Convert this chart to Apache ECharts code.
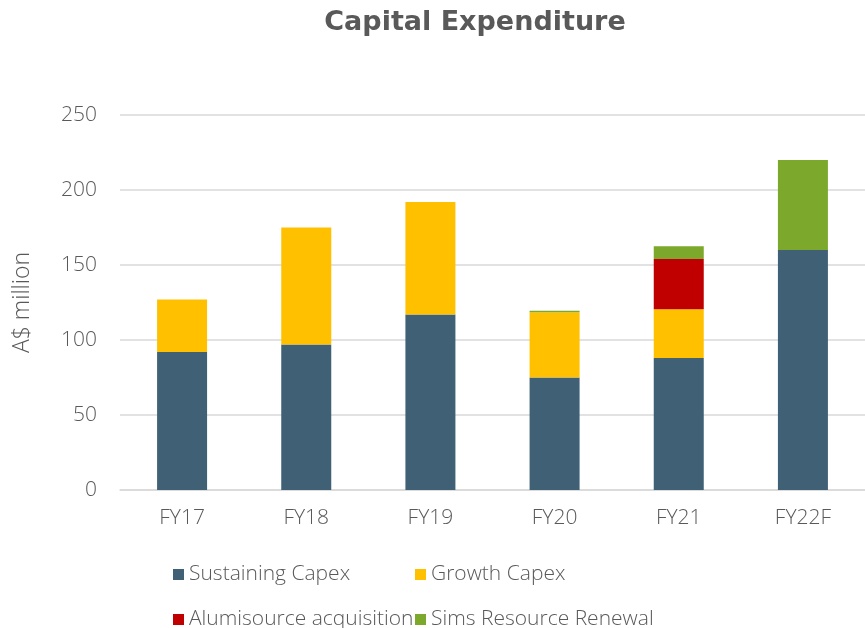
<!DOCTYPE html>
<html><head><meta charset="utf-8">
<script src="https://cdn.jsdelivr.net/npm/echarts@6/dist/echarts.min.js"></script>
<style>html,body{margin:0;padding:0;background:#fff}#c{width:865px;height:628px}</style>
</head><body><div id="c"></div>
<script>
const categories = ['FY17','FY18','FY19','FY20','FY21','FY22F'];
const sustaining = [92, 97, 117, 75, 88, 160];
const growth = [35, 78, 75, 43.5, 32.5, 0];
const alumisource = [0, 0, 0, 0, 33.5, 0];
const sims = [0, 0, 0, 1, 8.5, 60];
const seriesNames = ['Sustaining Capex','Growth Capex','Alumisource acquisition','Sims Resource Renewal'];
const colors = ['#3F6075','#FFC000','#C00000','#7CA82B'];
const seriesData = [sustaining, growth, alumisource, sims];

const font = '"Open Sans", sans-serif';
const titleFont = '"DejaVu Sans", sans-serif';
const chart = echarts.init(document.getElementById('c'));
const legendPos = [[173,564],[415,564],[173,609],[415,609]];
chart.setOption({
  animation:false,
  color: colors,
  title:{text:'Capital Expenditure',left:470,textAlign:'center',top:4,
    textStyle:{fontFamily:titleFont,fontWeight:'bold',fontSize:27,color:'#595959'}},
  grid:{left:120,width:753,top:115,height:375,containLabel:false},
  legend: seriesNames.map((n,i)=>({
    data:[n], left:legendPos[i][0], top:legendPos[i][1], padding:0, itemWidth:11, itemHeight:11, itemGap:0,
    icon:'rect', textStyle:{fontFamily:font,fontWeight:300,fontSize:21,color:'#595959'}
  })),
  xAxis:{type:'category',data:categories,
    axisLine:{lineStyle:{color:'#d9d9d9',width:1.5}},axisTick:{show:false},
    axisLabel:{fontFamily:font,fontWeight:300,fontSize:21,color:'#595959',margin:18}},
  yAxis:{type:'value',min:0,max:250,interval:50,
    name:'A$ million',nameLocation:'middle',nameGap:86,nameRotate:90,
    nameTextStyle:{fontFamily:font,fontWeight:300,fontSize:23,color:'#595959'},
    axisLine:{show:false},axisTick:{show:false},
    splitLine:{lineStyle:{color:'#d9d9d9',width:1.5}},
    axisLabel:{fontFamily:font,fontWeight:300,fontSize:21,color:'#595959',margin:23}},
  series: seriesNames.map((n,i)=>({
    name:n,type:'bar',stack:'total',barWidth:50,data:seriesData[i],
    itemStyle:{color:colors[i]}
  }))
});
</script></body></html>
